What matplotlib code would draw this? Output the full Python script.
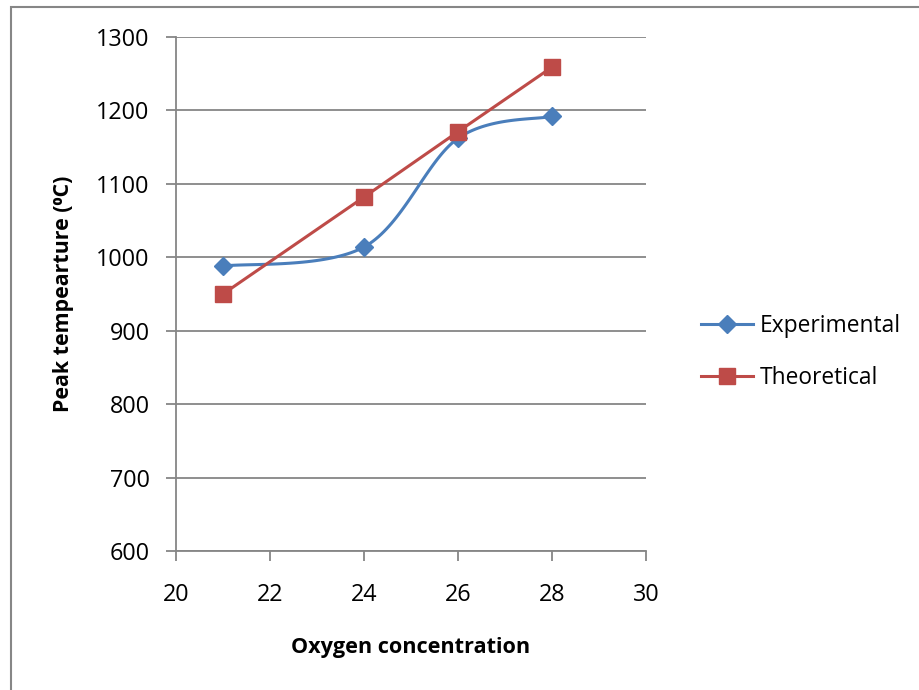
import numpy as np
import matplotlib
matplotlib.use("Agg")
import matplotlib.pyplot as plt
from matplotlib.lines import Line2D
from matplotlib.patches import Rectangle

oxygen = [21, 24, 26, 28]
experimental = [988, 1014, 1162, 1192]
theoretical = [950, 1082, 1171, 1259]
x_ticks = [20, 22, 24, 26, 28, 30]
y_ticks = [600, 700, 800, 900, 1000, 1100, 1200, 1300]

plt.rcParams['font.family'] = ['Open Sans', 'DejaVu Sans']

BLUE = '#4A7EBB'
RED = '#BE4B48'
GRID = '#868686'

def smooth(xs, ys, n=40):
    P = np.column_stack([xs, ys]).astype(float)
    Pext = np.vstack([P[0], P, P[-1]])
    out = []
    for i in range(len(P) - 1):
        p0, p1, p2, p3 = Pext[i], Pext[i + 1], Pext[i + 2], Pext[i + 3]
        c1 = p1 + (p2 - p0) / 6.0
        c2 = p2 - (p3 - p1) / 6.0
        t = np.linspace(0, 1, n)[:, None]
        seg = ((1 - t) ** 3) * p1 + 3 * ((1 - t) ** 2) * t * c1 + 3 * (1 - t) * t ** 2 * c2 + t ** 3 * p2
        out.append(seg if i == 0 else seg[1:])
    out = np.vstack(out)
    return out[:, 0], out[:, 1]

fig = plt.figure(figsize=(9.19, 6.90), dpi=100)
W, H = 919, 690
ax = fig.add_axes([176 / W, 1 - 551 / H, (646 - 176) / W, (551 - 37) / H])

ax.set_xlim(20, 30)
ax.set_ylim(600, 1300)
ax.set_xticks(x_ticks)
ax.set_yticks(y_ticks)
ax.grid(axis='y', color=GRID, linewidth=1.3)
ax.set_axisbelow(True)
for s in ['top', 'right']:
    ax.spines[s].set_visible(False)
for s in ['left', 'bottom']:
    ax.spines[s].set_color(GRID)
    ax.spines[s].set_linewidth(1.3)
ax.tick_params(axis='both', colors=GRID, labelcolor='black', labelsize=16.8,
               length=7, width=1.3, direction='out')
ax.tick_params(axis='x', pad=16)
ax.tick_params(axis='y', pad=12)

sx, sy = smooth(oxygen, experimental)
ax.plot(sx, sy, color=BLUE, linewidth=2.2, zorder=3)
ax.plot(oxygen, experimental, linestyle='none', marker='D', markersize=9,
        color=BLUE, zorder=4)
ax.plot(oxygen, theoretical, color=RED, linewidth=2.2, marker='s',
        markersize=11, zorder=5)

ax.set_xlabel('Oxygen concentration', fontsize=15.6, fontweight='bold', labelpad=22)
ax.set_ylabel('Peak tempearture (\u2070C)', fontsize=15.4, fontweight='bold', labelpad=16)

handles = [
    Line2D([], [], color=BLUE, linewidth=2.2, marker='D', markersize=9),
    Line2D([], [], color=RED, linewidth=2.2, marker='s', markersize=11),
]
fig.legend(handles, ['Experimental', 'Theoretical'], loc='center left',
           bbox_to_anchor=(701 / W, 1 - 352 / H), frameon=False, fontsize=16.4,
           handlelength=2.3, handletextpad=0.3, labelspacing=1.25,
           borderaxespad=0, borderpad=0)

fig.patches.append(Rectangle((11 / W, -0.1), 1.2, (1 - 7 / H) + 0.1,
                             transform=fig.transFigure, fill=False,
                             edgecolor=GRID, linewidth=1.5))

fig.savefig('out.png', dpi=100)
